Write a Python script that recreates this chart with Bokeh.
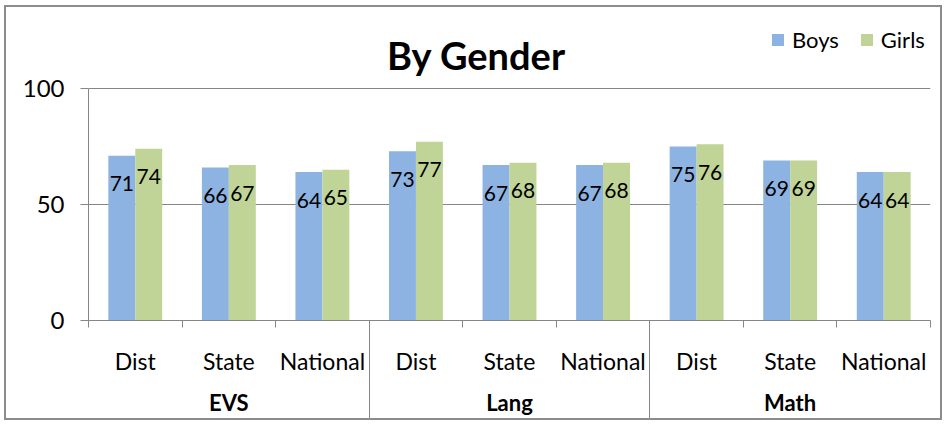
from bokeh.plotting import figure
from bokeh.models import (FactorRange, Range1d, LinearAxis, FixedTicker,
                          ColumnDataSource, Legend, LegendItem, Label)
from bokeh.transform import dodge
from bokeh.core.properties import value
from bokeh.embed import file_html
from bokeh.resources import INLINE

# ---- data ----
subjects = ["EVS", "Lang", "Math"]
levels = ["Dist", "State", "National"]
boys = [71, 66, 64, 73, 67, 67, 75, 69, 64]
girls = [74, 67, 65, 77, 68, 68, 76, 69, 64]
y_ticks = [0, 50, 100]
series_names = ["Boys", "Girls"]
title_text = "By Gender"

BLUE = "#8DB3E2"
GREEN = "#BFD496"
GREY = "#868686"
FONT = "Lato"

factors = [(s, l) for s in subjects for l in levels]
src = ColumnDataSource(dict(
    x=factors, boys=boys, girls=girls,
    boys_lbl=[str(v) for v in boys], girls_lbl=[str(v) for v in girls],
))

# layout (pixels)
W, H = 938, 415
B_LEFT, B_RIGHT, B_TOP, B_BOTTOM = 82, 14, 4, 102
frame_h = H - B_TOP - B_BOTTOM
value_h = 232  # pixel height of the 0..100 value span
y_max = y_ticks[-1]
y_end = y_max * frame_h / value_h

x_range = FactorRange(*factors, factor_padding=0, group_padding=0, range_padding=0)
p = figure(width=W, height=H, x_range=x_range, y_range=Range1d(0, y_end),
           output_backend="svg", toolbar_location=None, x_axis_location=None,
           min_border_left=B_LEFT, min_border_right=B_RIGHT,
           min_border_top=B_TOP, min_border_bottom=B_BOTTOM)
p.outline_line_color = None
p.background_fill_color = "white"
p.border_fill_color = "white"
p.styles = {"border": "2px solid #8c8c8c", "margin-left": "4px", "margin-top": "5px"}

# y axis
yax = p.yaxis[0]
yax.ticker = FixedTicker(ticks=y_ticks)
yax.bounds = (y_ticks[0], y_ticks[-1])
yax.axis_line_color = GREY
yax.major_tick_line_color = GREY
yax.minor_tick_line_color = None
yax.major_tick_in = 0
yax.major_tick_out = 8
yax.major_label_standoff = 16
yax.major_label_text_font = FONT
yax.major_label_text_font_size = "24px"
yax.major_label_text_color = "black"

p.ygrid.ticker = FixedTicker(ticks=y_ticks[1:])
p.ygrid.grid_line_color = GREY
p.xgrid.visible = False

# x axes on the synthetic coordinates of the factor range
n = len(factors)
edges = list(range(n + 1))
group_edges = list(range(len(levels), n, len(levels)))
sub_centers = [i + 0.5 for i in range(n)]
grp_centers = [len(levels) * g + len(levels) / 2 for g in range(len(subjects))]

tick_axis = LinearAxis(ticker=FixedTicker(ticks=edges, minor_ticks=group_edges),
                       axis_line_color=GREY, major_tick_line_color=GREY, minor_tick_line_color=GREY,
                       major_tick_in=0, major_tick_out=7, minor_tick_in=-101, minor_tick_out=0,
                       major_label_text_font_size="0px", major_label_text_alpha=0,
                       major_label_standoff=0)
p.add_layout(tick_axis, "below")

sub_axis = LinearAxis(ticker=FixedTicker(ticks=sub_centers, minor_ticks=[]),
                      major_label_overrides={c: f[1] for c, f in zip(sub_centers, factors)},
                      axis_line_color=None, major_tick_line_color=None, minor_tick_line_color=None,
                      major_tick_in=0, major_tick_out=0, minor_tick_in=0, minor_tick_out=0,
                      major_label_standoff=19, major_label_text_font=FONT,
                      major_label_text_font_size="23px", major_label_text_color="black")
p.add_layout(sub_axis, "below")

grp_axis = LinearAxis(ticker=FixedTicker(ticks=grp_centers, minor_ticks=[]),
                      major_label_overrides={c: s for c, s in zip(grp_centers, subjects)},
                      axis_line_color=None, major_tick_line_color=None, minor_tick_line_color=None,
                      major_tick_in=0, major_tick_out=0, minor_tick_in=0, minor_tick_out=0,
                      major_label_standoff=11, major_label_text_font=FONT,
                      major_label_text_font_size="22px", major_label_text_font_style="bold",
                      major_label_text_color="black")
p.add_layout(grp_axis, "below")

# bars
r1 = p.vbar(x=dodge("x", -0.144, range=p.x_range), top="boys", width=0.288, source=src,
            fill_color=BLUE, line_color=None)
r2 = p.vbar(x=dodge("x", 0.144, range=p.x_range), top="girls", width=0.288, source=src,
            fill_color=GREEN, line_color=None)

# data labels
for col, off in (("boys", -0.144), ("girls", 0.144)):
    p.text(x=dodge("x", off, range=p.x_range), y=col, text=col + "_lbl", source=src,
           text_align="center", text_baseline="middle", y_offset=28,
           text_font=value(FONT), text_font_size="21px", text_color="black")

# title
p.add_layout(Label(text=title_text, x=388, y=266, x_units="screen", y_units="screen",
                   text_align="center", text_baseline="alphabetic",
                   text_font=FONT, text_font_size="38px", text_font_style="bold",
                   text_color="black"))

legend = Legend(items=[LegendItem(label=series_names[0], renderers=[r1]),
                       LegendItem(label=series_names[1], renderers=[r2])],
                orientation="horizontal", location=(682, 267),
                glyph_width=15, glyph_height=15, label_height=15, label_standoff=7, spacing=20,
                padding=0, margin=0, border_line_color=None, background_fill_alpha=0,
                label_text_font=FONT, label_text_font_size="22px", label_text_color="black")
p.add_layout(legend)

open("out.html", "w").write(file_html(p, INLINE))
